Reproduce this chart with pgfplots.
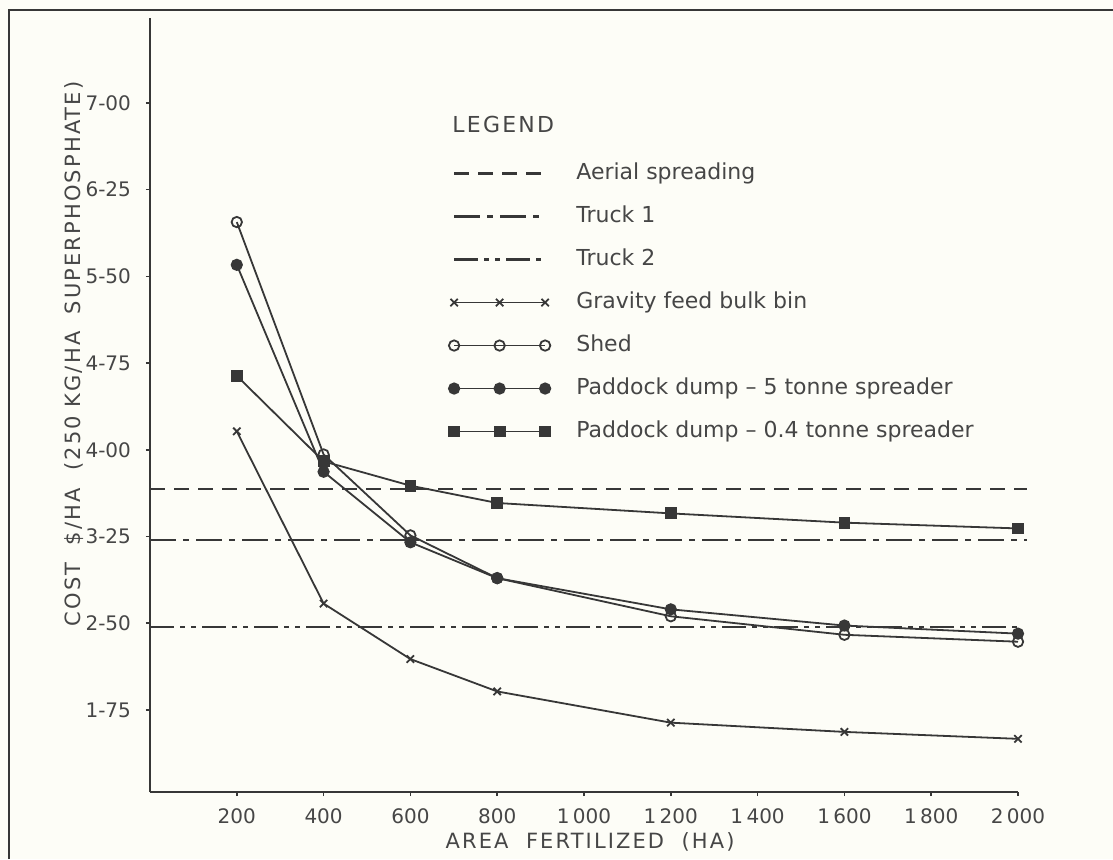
\documentclass[border=0pt]{standalone}
\usepackage{pgfplots}
\pgfplotsset{compat=1.18}
\usepackage{fontspec}
\setmainfont{DejaVu Sans}
\newfontfamily\spaced[LetterSpace=10]{DejaVu Sans}
\definecolor{ink}{RGB}{55,55,55}
\definecolor{txt}{RGB}{70,70,70}
\definecolor{paper}{RGB}{253,253,247}
\pgfplotsset{
  lineimg/.style={legend image code/.code={\draw[##1] (0pt,0pt) -- (45.5pt,0pt);}},
  markimg/.style={legend image code/.code={\draw[##1] plot coordinates {(0pt,0pt) (22.75pt,0pt) (45.5pt,0pt)};}},
}

\begin{document}
\begin{tikzpicture}
\fill[paper] (0,0) rectangle (556.5pt,-429.5pt);
\useasboundingbox (0,0) rectangle (556.5pt,-429.5pt);
\draw[ink, line width=0.9pt] (4.5pt,-429.5pt) -- (4.5pt,-5pt) -- (556.5pt,-5pt);
\begin{axis}[
  at={(75pt,-396pt)}, anchor=south west,
  scale only axis, width=434pt, height=387pt,
  xmin=0, xmax=2000, ymin=1.04, ymax=7.735,
  axis x line*=bottom, axis y line*=left,
  axis line style={ink, line width=0.9pt},
  clip=false,
  xtick={200,400,600,800,1000,1200,1400,1600,1800,2000},
  xticklabels={200,400,600,800,1\,000,1\,200,1\,400,1\,600,1\,800,2\,000},
  ytick={1.75,2.5,3.25,4,4.75,5.5,6.25,7},
  yticklabels={1-75,2-50,3-25,4-00,4-75,5-50,6-25,7-00},
  tick style={ink, line width=0.8pt},
  tick align=outside,
  major tick length=2pt,
  /pgf/number format/assume math mode=true,
  tick label style={font=\fontsize{10}{12}\selectfont, text=txt},
  yticklabel style={xshift=-4pt},
  xticklabel style={yshift=-3pt},
  xlabel={{\spaced AREA\ \ FERTILIZED\ \ (HA)}},
  ylabel={{\spaced COST\ \ \$/HA\ \ (250 KG/HA\ \ SUPERPHOSPHATE)}},
  every axis x label/.style={at={(axis description cs:0.507,-0.0646)}, anchor=center, font=\fontsize{10.5}{12}\selectfont, text=txt},
  every axis y label/.style={at={(axis description cs:-0.0876,0.566)}, anchor=center, rotate=90, font=\fontsize{10.5}{12}\selectfont, text=txt},
  legend style={at={(axis description cs:0.337,0.817)}, anchor=north west, draw=none, fill=none,
    font=\fontsize{11}{13}\selectfont, text=txt, row sep=12pt,
    nodes={inner sep=0pt, text height=7.5pt, text depth=2pt},
    /tikz/every odd column/.append style={column sep=13pt}},
  legend cell align=left,
]
\addplot[ink, line width=1.1pt, dash pattern=on 7.5pt off 4.5pt, lineimg]
  coordinates {(0,3.66) (2020,3.66)};
\addlegendentry{Aerial spreading}
\addplot[ink, line width=1.1pt, dash pattern=on 13pt off 3.5pt on 3pt off 3.5pt, lineimg]
  coordinates {(0,3.22) (2020,3.22)};
\addlegendentry{Truck 1}
\addplot[ink, line width=1.1pt, dash pattern=on 12pt off 3pt on 2.5pt off 3pt on 2.5pt off 3pt, lineimg]
  coordinates {(0,2.47) (2000,2.47)};
\addlegendentry{Truck 2}
\addplot[ink, line width=0.9pt, mark=x, mark size=2.6pt, mark options={solid}, markimg]
  coordinates {(200,4.16) (400,2.67) (600,2.19) (800,1.91) (1200,1.64) (1600,1.56) (2000,1.50)};
\addlegendentry{Gravity feed bulk bin}
\addplot[ink, line width=0.9pt, mark=o, mark size=2.6pt, mark options={solid, fill=paper}, markimg]
  coordinates {(200,5.97) (400,3.96) (600,3.26) (800,2.89) (1200,2.56) (1600,2.40) (2000,2.34)};
\addlegendentry{Shed}
\addplot[ink, line width=0.9pt, mark=*, mark size=2.6pt, mark options={solid, fill=ink}, markimg]
  coordinates {(200,5.60) (400,3.81) (600,3.20) (800,2.89) (1200,2.62) (1600,2.48) (2000,2.41)};
\addlegendentry{Paddock dump -- 5 tonne spreader}
\addplot[ink, line width=0.9pt, mark=square*, mark size=2.5pt, mark options={solid, fill=ink}, markimg]
  coordinates {(200,4.64) (400,3.90) (600,3.69) (800,3.54) (1200,3.45) (1600,3.37) (2000,3.32)};
\addlegendentry{Paddock dump -- 0.4 tonne spreader}
\node[anchor=west, text=txt, font=\spaced\fontsize{11}{13}\selectfont, inner sep=0pt] at (axis cs:696,6.818) {LEGEND};
\end{axis}
\end{tikzpicture}
\end{document}
